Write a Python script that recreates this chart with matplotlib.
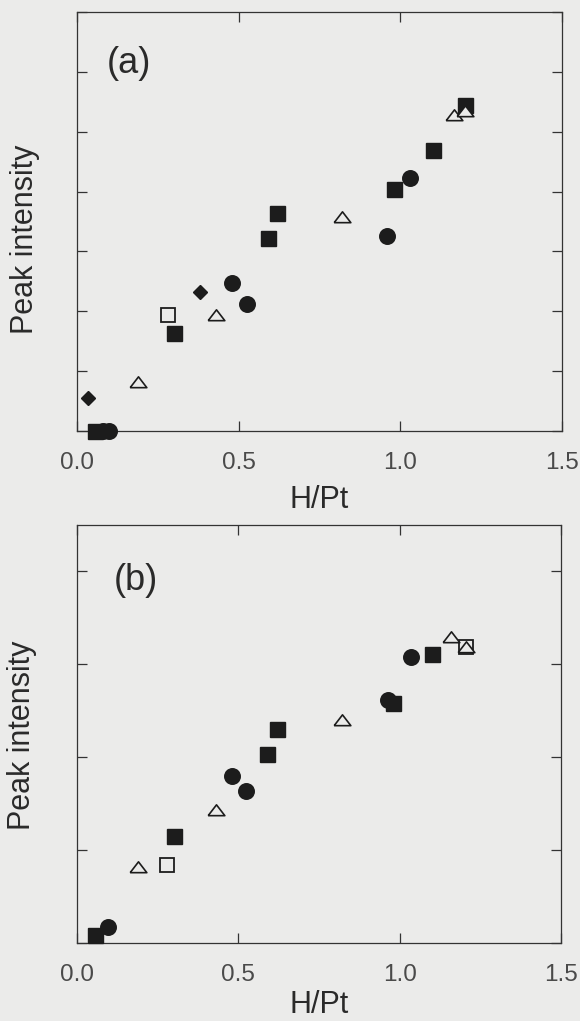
import matplotlib
matplotlib.use("Agg")
import matplotlib.pyplot as plt

plt.rcParams['font.family'] = ['Liberation Sans', 'DejaVu Sans']

# ---- data: panel (a) ----
a_sq_x = [0.055, 0.30, 0.59, 0.62, 0.98, 1.10, 1.20]
a_sq_y = [0.0, 1.63, 3.22, 3.65, 4.05, 4.70, 5.44]
a_ci_x = [0.08, 0.10, 0.48, 0.525, 0.96, 1.03]
a_ci_y = [0.0, 0.0, 2.47, 2.12, 3.25, 4.22]
a_tri_x = [0.19, 0.43, 0.82, 1.165, 1.20]
a_tri_y = [0.82, 1.93, 3.58, 5.28, 5.34]
a_osq_x = [0.28]
a_osq_y = [1.93]
a_dia_x = [0.035, 0.38]
a_dia_y = [0.55, 2.32]

# ---- data: panel (b) ----
b_sq_x = [0.055, 0.30, 0.59, 0.62, 0.98, 1.10]
b_sq_y = [0.09, 1.15, 2.03, 2.30, 2.58, 3.11]
b_ci_x = [0.097, 0.48, 0.525, 0.965, 1.035]
b_ci_y = [0.17, 1.80, 1.64, 2.62, 3.08]
b_tri_x = [0.19, 0.43, 0.82, 1.16, 1.205]
b_tri_y = [0.82, 1.43, 2.40, 3.29, 3.19]
b_osq_x = [0.28, 1.205]
b_osq_y = [0.84, 3.19]

x_ticks = [0.0, 0.5, 1.0, 1.5]
x_tick_labels = ['0.0', '0.5', '1.0', '1.5']
a_y_ticks = [0, 1, 2, 3, 4, 5, 6, 7]
b_y_ticks = [0, 1, 2, 3, 4]

BG = '#ebebea'
INK = '#1c1c1c'
GRAY = '#4a4a4a'

tri_shape = [(-1, -0.62), (1, -0.62), (0, 0.68), (-1, -0.62)]

fig = plt.figure(figsize=(5.8, 10.21), dpi=100, facecolor=BG)
ax_a = fig.add_axes([77 / 580, 1 - 431 / 1021, 485 / 580, 419 / 1021])
ax_b = fig.add_axes([77 / 580, 1 - 943 / 1021, 484 / 580, 418 / 1021])


def style_axes(ax, ymax, yticks, xlabel_pad):
    ax.set_facecolor(BG)
    ax.set_xlim(0, 1.5)
    ax.set_ylim(0, ymax)
    ax.set_xticks(x_ticks)
    ax.set_xticklabels(x_tick_labels)
    ax.set_yticks(yticks)
    ax.tick_params(direction='in', length=7, width=0.9, color='#333333',
                   top=True, right=True, labelleft=False,
                   labelsize=17.5, labelcolor=GRAY, pad=15)
    for s in ax.spines.values():
        s.set_linewidth(0.9)
        s.set_color('#333333')
    ax.set_xlabel('H/Pt', fontsize=22, color='#2a2a2a', labelpad=xlabel_pad)


def draw_points(ax, sq, ci, tri, osq, dia=None):
    kw = dict(ls='none', clip_on=False)
    ax.plot(*sq, marker='s', ms=10.8, mfc=INK, mec=INK, zorder=3, **kw)
    ax.plot(*ci, marker='o', ms=11.2, mfc=INK, mec=INK, zorder=3, **kw)
    ax.plot(*osq, marker='s', ms=10.3, mfc=BG, mec=INK, mew=1.3, zorder=4, **kw)
    if dia is not None:
        ax.plot(*dia, marker='D', ms=7.5, mfc=INK, mec=INK, zorder=3, **kw)
    ax.plot(*tri, marker=tri_shape, ms=12, mfc=BG, mec=INK, mew=1.2, zorder=5, **kw)


style_axes(ax_a, 7, a_y_ticks, 8)
draw_points(ax_a, (a_sq_x, a_sq_y), (a_ci_x, a_ci_y), (a_tri_x, a_tri_y),
            (a_osq_x, a_osq_y), (a_dia_x, a_dia_y))
ax_a.text(0.062, 0.876, '(a)', transform=ax_a.transAxes, fontsize=26,
          color='#2a2a2a', ha='left', va='center')

style_axes(ax_b, 4.5, b_y_ticks, 3)
draw_points(ax_b, (b_sq_x, b_sq_y), (b_ci_x, b_ci_y), (b_tri_x, b_tri_y),
            (b_osq_x, b_osq_y))
ax_b.text(0.075, 0.868, '(b)', transform=ax_b.transAxes, fontsize=26,
          color='#2a2a2a', ha='left', va='center')

fig.text(25 / 580, 1 - 239 / 1021, 'Peak intensity', rotation=90, fontsize=22,
         color='#2a2a2a', ha='center', va='center')
fig.text(22 / 580, 1 - 735 / 1021, 'Peak intensity', rotation=90, fontsize=22,
         color='#2a2a2a', ha='center', va='center')

fig.savefig('out.png', dpi=100, facecolor=BG)
